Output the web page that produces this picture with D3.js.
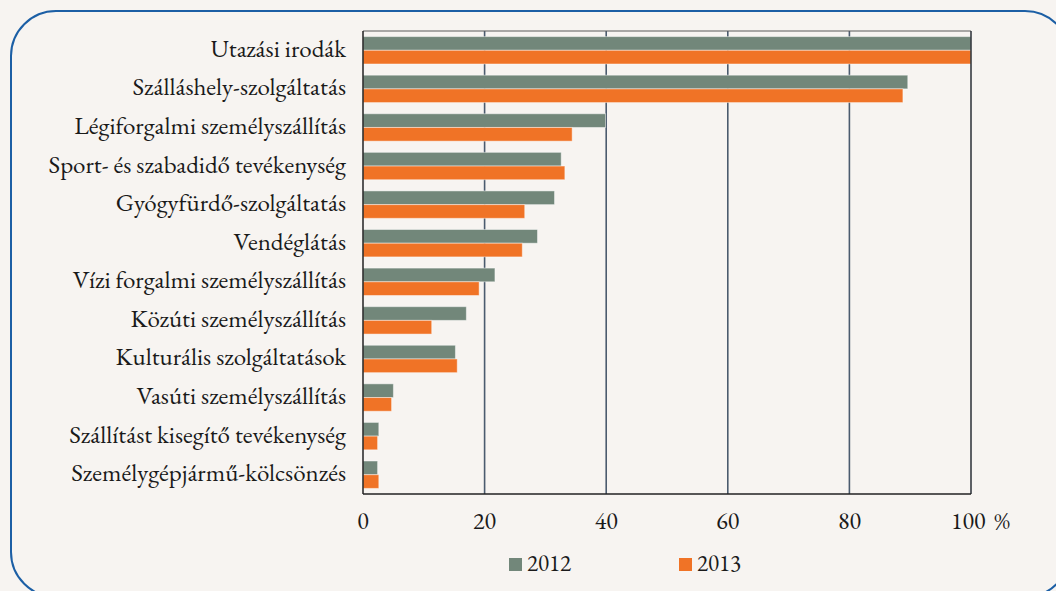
<!DOCTYPE html>
<html><head><meta charset="utf-8">
<script src="https://cdn.jsdelivr.net/npm/d3@7"></script>
<style>
html,body{margin:0;padding:0;background:#f7f4f1;}
svg{display:block;}
</style></head>
<body>
<svg id="c" width="1056" height="591"></svg>
<script>
const categories = ["Utazási irodák","Szálláshely-szolgáltatás","Légiforgalmi személyszállítás","Sport- és szabadidő tevékenység","Gyógyfürdő-szolgáltatás","Vendéglátás","Vízi forgalmi személyszállítás","Közúti személyszállítás","Kulturális szolgáltatások","Vasúti személyszállítás","Szállítást kisegítő tevékenység","Személygépjármű-kölcsönzés"];
const values2012 = [100, 89.6, 39.9, 32.6, 31.5, 28.7, 21.7, 17.0, 15.2, 5.0, 2.6, 2.4];
const values2013 = [100, 88.8, 34.4, 33.2, 26.6, 26.2, 19.1, 11.3, 15.5, 4.7, 2.4, 2.6];
const seriesNames = ["2012","2013"];
const colors = ["#72877a","#f07326"];
const ticks = [0,20,40,60,80,100];
const tickLabels = ["0","20","40","60","80","100 %"];

const FONT = "'EB Garamond'";
const svg = d3.select("#c");
svg.append("rect").attr("x",11).attr("y",11).attr("width",1059).attr("height",586)
  .attr("rx",45).attr("fill","#f7f4f1").attr("stroke","#1c5fa5").attr("stroke-width",2);

const m = {left:363, right:971, top:31, bottom:494};
const x = d3.scaleLinear().domain([0,100]).range([m.left,m.right]);
const y = d3.scaleBand().domain(categories).range([m.top,m.bottom]).paddingInner(0.29).paddingOuter(0.145);
const ys = d3.scaleBand().domain(seriesNames).range([0,y.bandwidth()]);

svg.append("g").selectAll("line").data(ticks.filter(t=>t>0&&t<100)).join("line")
  .attr("x1",d=>x(d)).attr("x2",d=>x(d)).attr("y1",m.top).attr("y2",m.bottom)
  .attr("stroke","#4b5b6e").attr("stroke-width",1.6);

const series = [values2012, values2013];
series.forEach((vals,si)=>{
  svg.append("g").selectAll("rect").data(categories).join("rect")
    .attr("x",x(0)).attr("y",(d)=>y(d)+ys(seriesNames[si]))
    .attr("width",(d,i)=>x(vals[i])-x(0)).attr("height",ys.bandwidth())
    .attr("fill",colors[si]).attr("stroke","rgba(255,255,255,0.45)").attr("stroke-width",1);
});

svg.append("line").attr("x1",m.left).attr("x2",m.right).attr("y1",m.top).attr("y2",m.top).attr("stroke","#5a5a5a").attr("stroke-width",1.2);
svg.append("line").attr("x1",m.right).attr("x2",m.right).attr("y1",m.top).attr("y2",m.bottom).attr("stroke","#2a2f36").attr("stroke-width",1.5);
svg.append("line").attr("x1",m.left).attr("x2",m.right).attr("y1",m.bottom).attr("y2",m.bottom).attr("stroke","#222").attr("stroke-width",1.5);
svg.append("line").attr("x1",m.left).attr("x2",m.left).attr("y1",m.top).attr("y2",m.bottom).attr("stroke","#222").attr("stroke-width",1.5);

svg.append("g").selectAll("text").data(categories).join("text")
  .attr("x",346).attr("y",d=>y(d)+y.bandwidth()/2+6.5)
  .attr("text-anchor","end").attr("font-size",25).attr("fill","#1a1a1a").style("font-family",FONT).text(d=>d);

svg.append("g").selectAll("text").data(ticks).join("text")
  .attr("x",(d,i)=> i===ticks.length-1 ? x(d)-20 : x(d)).attr("y",529)
  .attr("text-anchor",(d,i)=> i===ticks.length-1 ? "start":"middle")
  .attr("word-spacing",(d,i)=> i===ticks.length-1 ? 4 : 0)
  .attr("font-size",24).attr("fill","#1a1a1a").style("font-family",FONT).text((d,i)=>tickLabels[i]);

const lx = [509, 679];
seriesNames.forEach((s,i)=>{
  svg.append("rect").attr("x",lx[i]).attr("y",558).attr("width",13).attr("height",13).attr("fill",colors[i]);
  svg.append("text").attr("x",lx[i]+18).attr("y",571).attr("font-size",23).attr("fill","#1a1a1a").style("font-family",FONT).text(s);
});
</script>
</body></html>
